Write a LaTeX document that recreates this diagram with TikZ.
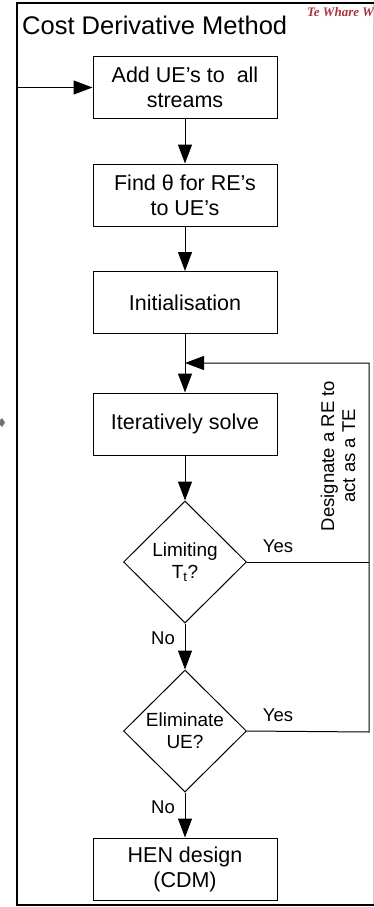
\documentclass[tikz,border=0pt]{standalone}
\usepackage{fontspec}
\setmainfont{Liberation Sans}
\newfontfamily\crestfont{Liberation Serif}
\usetikzlibrary{arrows.meta,shapes.geometric}
\definecolor{crest}{HTML}{A8343E}
\definecolor{pale}{HTML}{D4D4D4}
\definecolor{tag}{HTML}{6E7866}

\begin{document}
\begin{tikzpicture}[x=1pt,y=-1pt,
  stepbox/.style={draw,line width=1pt,minimum width=184pt,minimum height=62pt,inner sep=0pt,align=center,font=\fontsize{21.5}{25}\selectfont},
  ask/.style={draw,diamond,line width=1pt,minimum width=123pt,minimum height=122pt,inner sep=0pt,align=center,font=\fontsize{19}{22}\selectfont},
  flow/.style={line width=1pt,-{Triangle[length=19pt,width=14pt]}},
  lbl/.style={font=\fontsize{18.5}{21}\selectfont}]
  \useasboundingbox (0,0) rectangle (374,907);
  % frame of the slide
  \draw[pale,line width=0.8pt] (373,3) -- (373,905);
  \draw[line width=1.4pt] (374,3) -- (17,3) -- (17,905) -- (374,905);
  \fill[tag] (-2,422.5) -- (2,418) -- (5,422.5) -- (2,427) -- cycle;
  \node[anchor=base west,inner sep=0pt,font=\fontsize{25.5}{28}\selectfont] (title) at (22,35) {Cost Derivative Method};
  \node[anchor=base west,inner sep=0pt,text=crest,font=\crestfont\bfseries\itshape\fontsize{13}{14}\selectfont] (crestname) at (307,17) {Te Whare W};

  % main column
  \node[stepbox] (add) at (185,87.5) {Add UE’s to\ \ all\\streams};
  \node[stepbox] (find) at (185,195) {Find θ for RE’s\\to UE’s};
  \node[stepbox] (init) at (185,302.5) {Initialisation};
  \node[stepbox] (iter) at (185,424) {Iteratively solve};
  \node[ask] (lim) at (185,562) {Limiting\\T\textsubscript{t}?};
  \node[ask] (elim) at (185,731) {Eliminate\\UE?};
  \node[stepbox] (hen) at (185,869) {HEN design\\(CDM)};

  \coordinate (back) at (17,87.5);
  \coordinate (join) at (185,363);
  \coordinate (rt0) at (369,363);
  \coordinate (rt1) at (369,562);
  \coordinate (rt2) at (369,732);

  \draw[flow] (back) -- (add.west);
  \draw[flow] (add) -- (find);
  \draw[flow] (find) -- (init);
  \draw[flow] (init) -- (iter);
  \draw[flow] (iter) -- (lim);
  \draw[flow] (lim) -- (elim);
  \draw[flow] (elim) -- (hen);
  % loop back
  \draw (lim.east) -- (rt1);
  \draw[flow] (elim.east) -- (rt2) -- (rt0) -- (join);

  \node[lbl] (yes1) at (278,546) {Yes};
  \node[lbl] (yes2) at (278,715) {Yes};
  \node[lbl] (no1) at (163,638.5) {No};
  \node[lbl] (no2) at (163,807.5) {No};
  \node[lbl,rotate=90,align=center,font=\fontsize{18.5}{21}\selectfont] (designate) at (338,456) {Designate a RE to\\act as a TE};
\end{tikzpicture}
\end{document}
